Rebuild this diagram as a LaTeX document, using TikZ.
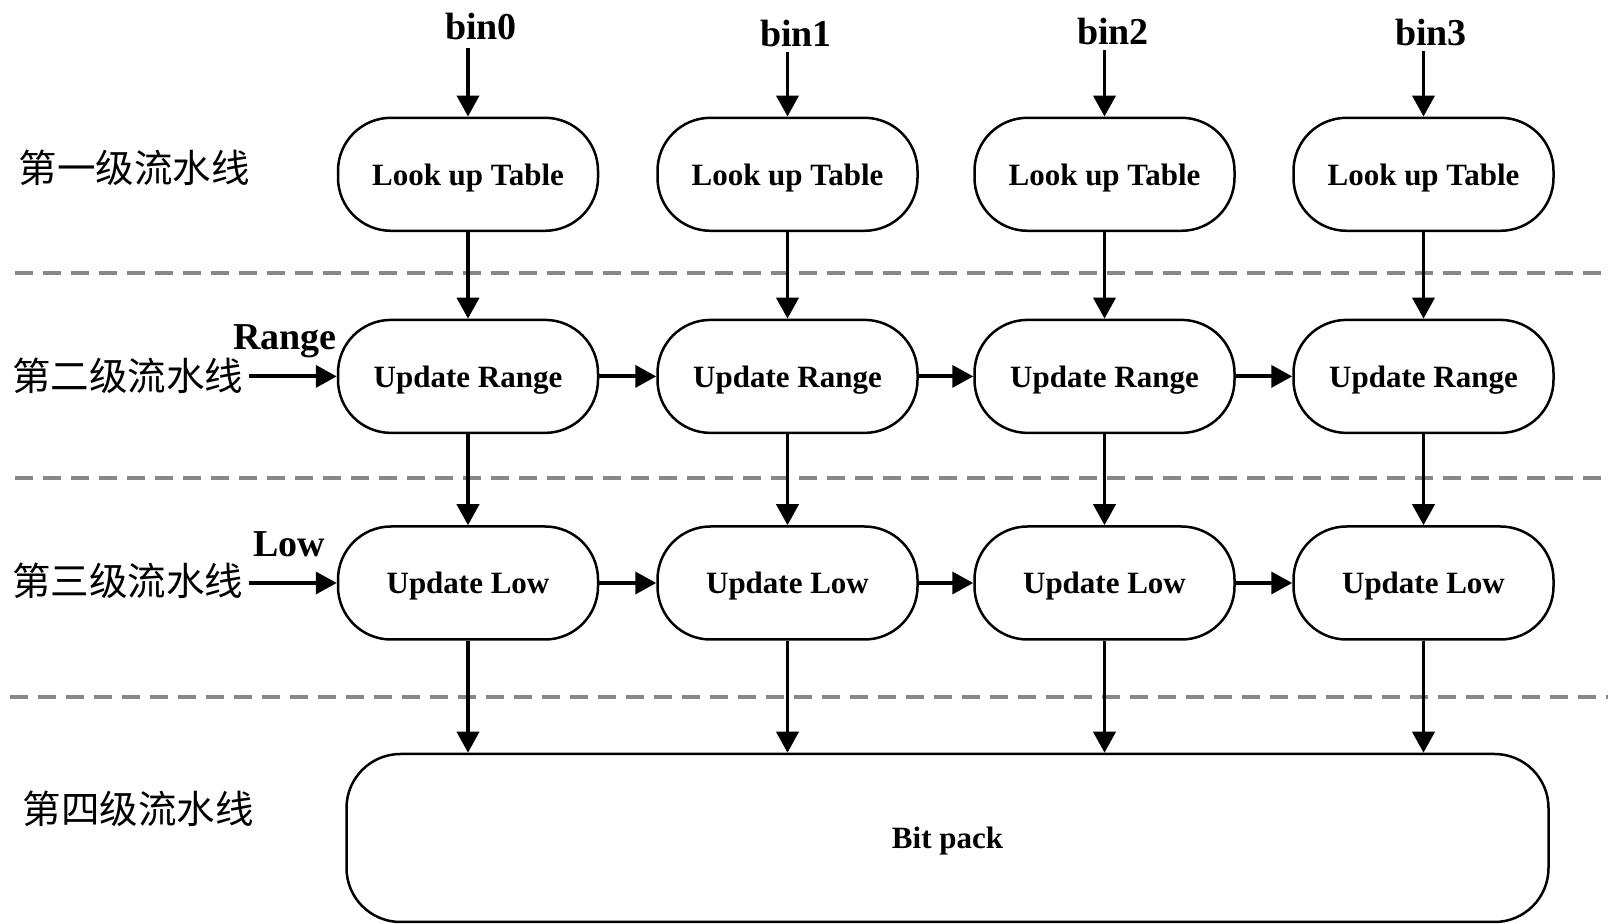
\documentclass[tikz,border=0pt]{standalone}
\usepackage{fontspec}
\setmainfont{Liberation Serif}
\newfontfamily\cjk{Noto Sans CJK SC}
\usetikzlibrary{arrows.meta}

\tikzset{
  stage/.style={draw, line width=1.25pt, rounded corners=26.5pt,
    minimum width=130pt, minimum height=56.5pt, inner sep=0pt, text depth=0pt,
    font=\fontsize{15.5pt}{18pt}\selectfont\bfseries},
  packbox/.style={draw, line width=1.25pt, rounded corners=27pt,
    minimum width=601pt, minimum height=84pt, inner sep=0pt, text depth=0pt,
    font=\fontsize{15.5pt}{18pt}\selectfont\bfseries},
  sig/.style={anchor=base, inner sep=0pt,
    font=\fontsize{19pt}{22pt}\selectfont\bfseries},
  level/.style={anchor=west, inner sep=0pt,
    font=\fontsize{19.25pt}{22pt}\selectfont\cjk},
  arr/.style={line width=1.9pt, -{Triangle[length=10.5pt, width=11pt]}},
  sep/.style={draw=black!47, line width=2.2pt, dash pattern=on 9pt off 5pt},
}

\begin{document}
\begin{tikzpicture}[x=0.5pt, y=-0.5pt]
  \fill[white] (0,0) rectangle (1608,924);
  \useasboundingbox (0,0) rectangle (1608,924);

  % pipeline stage separators
  \draw[sep] (15,273) -- (1608,273);
  \draw[sep] (15,478) -- (1608,478);
  \draw[sep] (10,697) -- (1608,697);

  % stage titles
  \node[level] (t1) at (18.5,168) {第一级流水线};
  \node[level] (t2) at (12,376) {第二级流水线};
  \node[level] (t3) at (12,581) {第三级流水线};
  \node[level] (t4) at (22.5,809) {第四级流水线};

  % four parallel lanes
  \foreach \i/\x in {0/468, 1/787.5, 2/1104.5, 3/1423.5} {
    \node[stage] (lut\i) at (\x,174.3) {Look up Table};
    \node[stage] (ur\i)  at (\x,376.4) {Update Range};
    \node[stage] (ul\i)  at (\x,583)   {Update Low};
  }

  % output stage
  \node[packbox] (bp) at (947.5,838) {Bit pack};

  % input symbols
  \node[sig] (bin0) at (481,40) {bin0};
  \node[sig] (bin1) at (796,47) {bin1};
  \node[sig] (bin2) at (1113,45) {bin2};
  \node[sig] (bin3) at (1431,46) {bin3};
  \coordinate (in0) at (468,48);
  \coordinate (in1) at (787.5,52);
  \coordinate (in2) at (1104.5,50);
  \coordinate (in3) at (1423.5,51);

  % range / low initial values
  \node[sig] (rng) at (285,350) {Range};
  \node[sig] (low) at (289.5,557) {Low};
  \coordinate (rin) at (249,376.4);
  \coordinate (lin) at (249,583);
  \draw[arr] (rin) -- (ur0.west);
  \draw[arr] (lin) -- (ul0.west);

  % vertical data flow
  \foreach \i in {0,1,2,3} {
    \draw[arr] (in\i) -- (lut\i.north);
    \draw[arr] (lut\i.south) -- (ur\i.north);
    \draw[arr] (ur\i.south) -- (ul\i.north);
    \draw[arr] (ul\i.south) -- (ul\i.south |- bp.north);
  }

  % chained updates between lanes
  \foreach \a/\b in {0/1, 1/2, 2/3} {
    \draw[arr] (ur\a.east) -- (ur\b.west);
    \draw[arr] (ul\a.east) -- (ul\b.west);
  }
\end{tikzpicture}
\end{document}
